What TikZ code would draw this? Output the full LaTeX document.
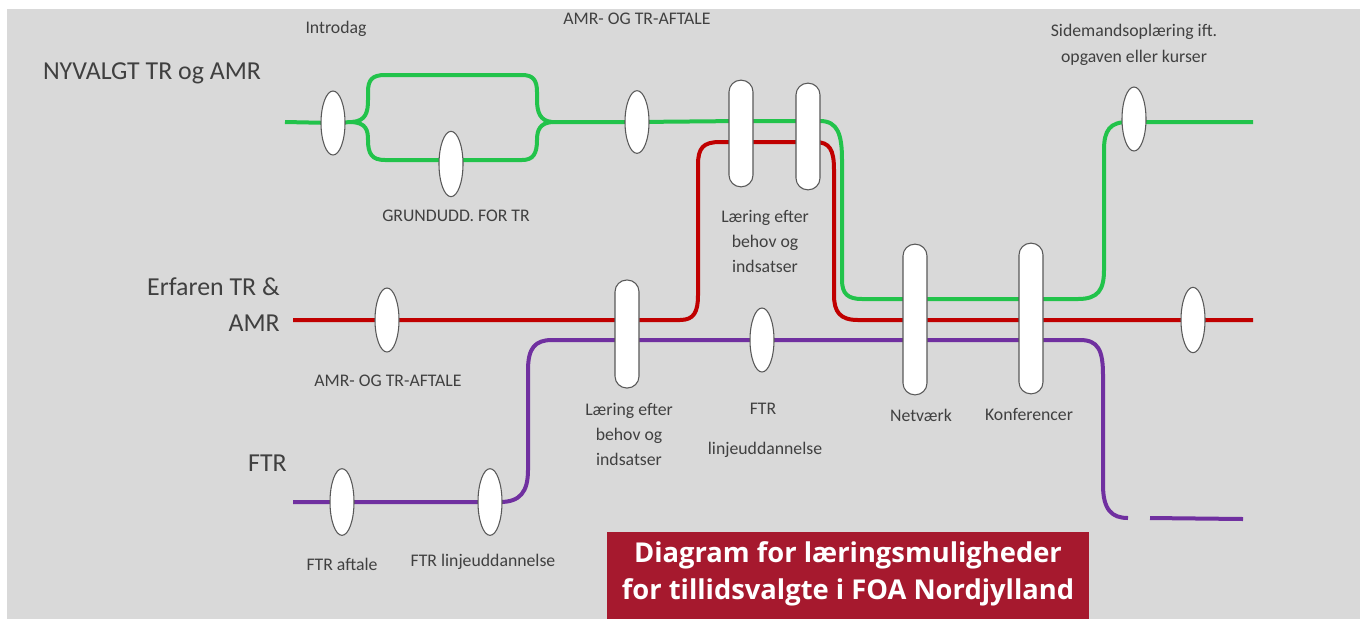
\documentclass[tikz,border=0pt]{standalone}
\usepackage{fontspec}
\setmainfont{Carlito}
\newfontfamily\titlefont{Open Sans}
\usetikzlibrary{shapes.geometric}
\definecolor{bgc}{HTML}{D9D9D9}
\definecolor{tgreen}{HTML}{22C34B}
\definecolor{tred}{HTML}{C00000}
\definecolor{tpurple}{HTML}{7030A0}
\definecolor{tbox}{HTML}{A6192E}
\definecolor{txt}{HTML}{404040}
\pgfdeclarelayer{back}
\pgfdeclarelayer{bg}
\pgfsetlayers{back,bg,main}
\tikzset{
  stop/.style={ellipse, draw=black!65, line width=0.8pt, fill=white, minimum width=18pt, inner sep=0pt},
  pill/.style={rectangle, rounded corners=8.8pt, draw=black!65, line width=0.8pt, fill=white, minimum width=18pt, inner sep=0pt},
  track/.style={line width=3pt},
  gtrack/.style={track, draw=tgreen},
  rtrack/.style={track, draw=tred},
  ptrack/.style={track, draw=tpurple},
  lbl/.style={text=txt, font=\fontsize{13.3}{18.75}\selectfont, align=center, inner sep=0pt},
  biglbl/.style={text=txt, font=\fontsize{19.4}{26}\selectfont, inner sep=0pt},
}
\begin{document}
\begin{tikzpicture}[x=0.75pt,y=-0.75pt]
\useasboundingbox (0,0) rectangle (1360,619);
\begin{pgfonlayer}{back}
\fill[bgc] (7,9) rectangle (1360,619);
\end{pgfonlayer}

% stops (ellipses)
\node[stop, minimum height=48pt] (e1) at (333,123) {};
\node[stop, minimum height=49pt] (e2) at (451,164) {};
\node[stop, minimum height=47pt] (e3) at (637,122) {};
\node[stop, minimum height=48pt] (e4) at (1134,119) {};
\node[stop, minimum height=48pt] (e5) at (387,320) {};
\node[stop, minimum height=49pt] (e6) at (1193,320) {};
\node[stop, minimum height=48pt] (e7) at (762,340) {};
\node[stop, minimum height=50pt] (e8) at (342,502) {};
\node[stop, minimum height=50pt] (e9) at (490,502) {};

% pills
\node[pill, minimum height=80pt] (p1) at (741,133.5) {};
\node[pill, minimum height=80pt] (p2) at (808,136.5) {};
\node[pill, minimum height=81pt] (p3) at (627,334) {};
\node[pill, minimum height=113pt] (p4) at (915,319.5) {};
\node[pill, minimum height=113pt] (p5) at (1031,318.5) {};

% free ends
\coordinate (gs) at (285,122);
\coordinate (ge) at (1253,122);
\coordinate (rs) at (293,320);
\coordinate (re) at (1253,320);
\coordinate (ps) at (293,502);
\coordinate (pe1) at (1128,518);
\coordinate (pe2s) at (1150,518);
\coordinate (pe2) at (1243,519);
\coordinate (jl) at (352,122);
\coordinate (jr) at (552,122);

\begin{pgfonlayer}{bg}
% green track
\draw[gtrack] (gs) -- (e1.center) -- (jl);
\draw[gtrack] (jl) .. controls (366,121) and (368,112) .. (368,100) -- (368,92)
  .. controls (368,80) and (372,75) .. (385,75) -- (522,75)
  .. controls (533,75) and (537,80) .. (537,92) -- (537,100)
  .. controls (537,112) and (540,121) .. (jr);
\draw[gtrack] (jl) .. controls (366,123) and (368,130) .. (368,140)
  .. controls (368,154) and (372,160) .. (385,160) -- (e2.center |- 0,160) -- (522,160)
  .. controls (533,160) and (537,154) .. (537,140)
  .. controls (537,130) and (540,123) .. (jr);
\draw[gtrack] (jr) -- (e3.center) -- (p1.center |- 0,121) -- (p2.center |- 0,121) -- (820,121)
  .. controls (838,121) and (842,135) .. (842,160) -- (842,280)
  .. controls (842,294) and (848,299) .. (862,299) -- (p4.center |- 0,299) -- (p5.center |- 0,299) -- (1078,299)
  .. controls (1098,299) and (1104,290) .. (1104,270) -- (1104,150)
  .. controls (1104,130) and (1110,122) .. (1128,122) -- (e4.center |- 0,122) -- (ge);
% red track
\draw[rtrack] (rs) -- (e5.center) -- (p3.center |- 0,320) -- (680,320)
  .. controls (694,320) and (698,312) .. (698,295) -- (698,165)
  .. controls (698,148) and (703,142) .. (720,142) -- (p1.center |- 0,142) -- (p2.center |- 0,142) -- (815,142)
  .. controls (830,142) and (834,150) .. (834,170) -- (834,295)
  .. controls (834,312) and (840,320) .. (858,320) -- (p4.center |- 0,320) -- (p5.center |- 0,320) -- (e6.center) -- (re);
% purple track
\draw[ptrack] (ps) -- (e8.center) -- (e9.center) -- (500,502)
  .. controls (520,502) and (528,492) .. (528,470) -- (528,370)
  .. controls (528,348) and (535,340) .. (552,340) -- (p3.center |- 0,340) -- (e7.center) -- (p4.center |- 0,340) -- (p5.center |- 0,340) -- (1080,340)
  .. controls (1098,340) and (1103,350) .. (1103,375) -- (1103,485)
  .. controls (1103,510) and (1112,518) .. (pe1);
\draw[ptrack] (pe2s) -- (pe2);
\end{pgfonlayer}

% row labels
\node[biglbl] (lnyv) at (152,73) {NYVALGT TR og AMR};
\node[biglbl, anchor=east] (lerf1) at (280,287) {Erfaren TR \&};
\node[biglbl, anchor=east] (lerf2) at (280,323) {AMR};
\node[biglbl, anchor=east] (lftr) at (287,463) {FTR};

% stop labels
\node[lbl] (t1) at (336,29) {Introdag};
\node[lbl] (t2) at (637,19) {AMR- OG TR-AFTALE};
\node[lbl] (t3) at (1134,32) {Sidemandsoplæring ift.};
\node[lbl] (t3b) at (1134,58) {opgaven eller kurser};
\node[lbl] (t4) at (456,216) {GRUNDUDD. FOR TR};
\node[lbl] (t5) at (765,241) {Læring efter\\behov og\\indsatser};
\node[lbl] (t6) at (388,381) {AMR- OG TR-AFTALE};
\node[lbl] (t7) at (629,434) {Læring efter\\behov og\\indsatser};
\node[lbl] (t8) at (763,409) {FTR};
\node[lbl] (t8b) at (765,450) {linjeuddannelse};
\node[lbl] (t9) at (921,415) {Netværk};
\node[lbl] (t10) at (1029,414) {Konferencer};
\node[lbl] (t11) at (342,564) {FTR aftale};
\node[lbl] (t12) at (483,562) {FTR linjeuddannelse};

% title box
\fill[tbox] (607,532) rectangle (1089,619);
\node[text=white, font=\titlefont\bfseries\fontsize{20.5}{27.75}\selectfont, align=center, inner sep=0pt] (title) at (848,573.5) {Diagram for læringsmuligheder\\for tillidsvalgte i FOA Nordjylland};
\end{tikzpicture}
\end{document}
